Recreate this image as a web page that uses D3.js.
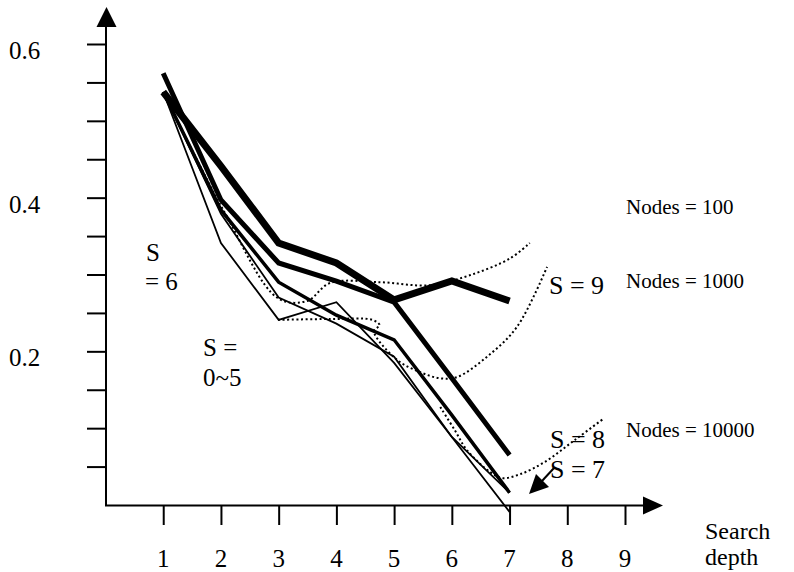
<!DOCTYPE html>
<html>
<head>
<meta charset="utf-8">
<script src="https://cdn.jsdelivr.net/npm/d3@7"></script>
<style>
  body { margin: 0; background: #fff; }
  svg { display: block; }
</style>
</head>
<body>
<svg id="chart" width="794" height="572"></svg>
<script>
// search depth on x
const depths = [1, 2, 3, 4, 5, 6, 7];

// solid curves, one per S
const lineS9 = [0.5375, 0.441, 0.341, 0.315, 0.267, 0.2915, 0.2655];
const lineS8 = [0.562, 0.397, 0.315, 0.2915, 0.264, 0.165, 0.065];
const lineS7 = [0.5375, 0.384, 0.29, 0.247, 0.215, 0.117, 0.016];
const lineS6 = [0.5375, 0.341, 0.241, 0.264, 0.185, 0.0885, 0.016];
const lineS05 = [0.5375, 0.379, 0.27, 0.236, 0.193, 0.0885, -0.009];

// dotted node-count curves, [depth, value]
const nodes100 = [[1, 0.5375], [2.07, 0.38], [2.99, 0.269], [3.49, 0.2655], [3.89, 0.289],
  [4.75, 0.29], [5.62, 0.286], [6.31, 0.299], [7.01, 0.321], [7.35, 0.341]];
const nodes1000 = [[2.99, 0.241], [3.89, 0.242], [4.62, 0.241], [4.75, 0.234], [4.65, 0.2265],
  [5.05, 0.189], [5.45, 0.173], [5.79, 0.165], [6.09, 0.1665], [6.61, 0.193], [7.13, 0.232], [7.65, 0.31]];
const nodes10000 = [[5.8, 0.1275], [6.05, 0.0976], [6.26, 0.0716], [6.66, 0.043], [6.87, 0.035],
  [7.18, 0.04], [7.61, 0.056], [8.13, 0.0846], [8.64, 0.113]];

// axis ticks
const xTickValues = [1, 2, 3, 4, 5, 6, 7, 8, 9];
const yTickValues = [0.05, 0.1, 0.15, 0.2, 0.25, 0.3, 0.35, 0.4, 0.45, 0.5, 0.55, 0.6];
const yLabelValues = [0.2, 0.4, 0.6];

const SERIF = "'Liberation Serif', Tinos, 'Times New Roman', 'DejaVu Serif', serif";

let svg = d3.select("#chart");

let x = d3.scaleLinear().domain([0, 9]).range([105.5, 625]);
let y = d3.scaleLinear().domain([0, 0.6]).range([505, 44]);

/* axes */
let yAxis = d3.axisLeft(y).tickValues(yTickValues).tickSize(19).tickFormat("");
let yG = svg.append("g").attr("transform", "translate(106,0)").call(yAxis);
yG.select(".domain").remove();
yG.selectAll("line").attr("stroke", "#000").attr("stroke-width", 2);

let xAxis = d3.axisBottom(x).tickValues(xTickValues).tickSize(20).tickFormat("");
let xG = svg.append("g").attr("transform", "translate(0,505)").call(xAxis);
xG.select(".domain").remove();
xG.selectAll("line").attr("stroke", "#000").attr("stroke-width", 2);

svg.append("line").attr("x1", 106).attr("x2", 106).attr("y1", 506).attr("y2", 26)
  .attr("stroke", "#000").attr("stroke-width", 2);
svg.append("path").attr("d", "M106.5,7 L96.5,27 L116.5,27 Z").attr("fill", "#000");

svg.append("line").attr("x1", 105).attr("x2", 645).attr("y1", 505.5).attr("y2", 505.5)
  .attr("stroke", "#000").attr("stroke-width", 2);
svg.append("path").attr("d", "M663,505.5 L643,496.5 L643,514.5 Z").attr("fill", "#000");

/* tick labels */
svg.selectAll(".ylab").data(yLabelValues).enter().append("text")
  .attr("class", "ylab")
  .attr("x", 9).attr("y", d => y(d) + 15)
  .style("font-family", SERIF)
  .style("font-size", "25px")
  .text(d => d.toFixed(1));

svg.selectAll(".xlab").data(xTickValues).enter().append("text")
  .attr("class", "xlab")
  .attr("x", d => x(d)).attr("y", 567)
  .attr("text-anchor", "middle")
  .style("font-family", SERIF)
  .style("font-size", "25px")
  .text(d => d);

svg.append("clipPath").attr("id", "xtitle-clip")
  .append("rect").attr("x", 690).attr("y", 524).attr("width", 104).attr("height", 48);
let xTitle = svg.append("g").attr("clip-path", "url(#xtitle-clip)");
xTitle.append("text").attr("x", 705).attr("y", 539)
  .style("font-family", SERIF).style("font-size", "24px").text("Search");
xTitle.append("text").attr("x", 705).attr("y", 565)
  .style("font-family", SERIF).style("font-size", "24px").text("depth");

/* solid lines */
let line = d3.line().x((d, i) => x(depths[i])).y(d => y(d));
let solid = [
  { values: lineS05, w: 1.8 },
  { values: lineS6, w: 1.8 },
  { values: lineS7, w: 3.5 },
  { values: lineS8, w: 5 },
  { values: lineS9, w: 7 }
];
svg.append("g").selectAll("path").data(solid).enter().append("path")
  .attr("d", d => line(d.values))
  .attr("fill", "none")
  .attr("stroke", "#000")
  .attr("stroke-width", d => d.w)
  .attr("stroke-linejoin", "miter");

/* dotted lines */
let curve = d3.line().x(d => x(d[0])).y(d => y(d[1])).curve(d3.curveCatmullRom.alpha(0.5));
svg.append("g").selectAll("path").data([nodes100, nodes1000, nodes10000]).enter().append("path")
  .attr("d", d => curve(d))
  .attr("fill", "none")
  .attr("stroke", "#000")
  .attr("stroke-width", 2)
  .attr("stroke-dasharray", "2,2.6");

/* annotations */
function label(txt, px, py, size) {
  svg.append("text").attr("x", px).attr("y", py)
    .style("font-family", SERIF)
    .style("font-size", size + "px")
    .text(txt);
}
label("S", 146, 261, 25);
label("= 6", 145, 290, 25);
label("S =", 203, 356, 25);
label("0~5", 203, 386, 25);
label("S = 9", 549, 294, 26);
label("S = 8", 550, 448, 26);
label("S = 7", 550, 478, 26);
label("Nodes = 100", 626, 214, 21);
label("Nodes = 1000", 626, 288, 21);
label("Nodes = 10000", 626, 437, 21);

// arrow pointing at S = 7 line end
svg.append("line").attr("x1", 554).attr("y1", 468).attr("x2", 542).attr("y2", 481)
  .attr("stroke", "#000").attr("stroke-width", 2);
svg.append("path").attr("d", "M529,494 L536,474 L549,487 Z").attr("fill", "#000");
</script>
</body>
</html>
